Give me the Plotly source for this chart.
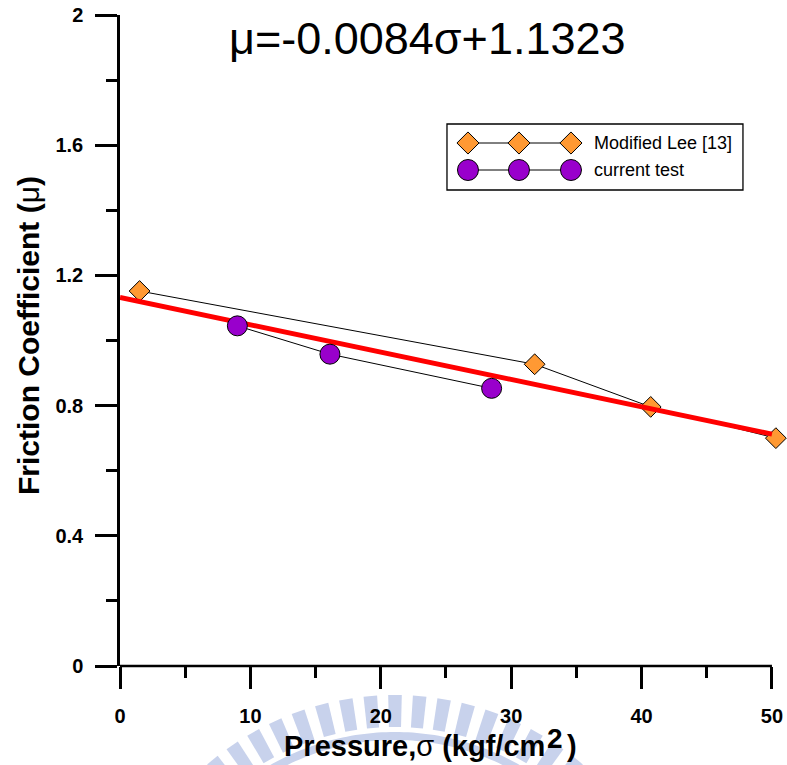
import math
import plotly.graph_objects as go

# ---------------- data ----------------
lee_x = [1.5, 31.8, 40.7, 50.3]
lee_y = [1.152, 0.927, 0.796, 0.700]

cur_x = [9.0, 16.1, 28.5]
cur_y = [1.045, 0.958, 0.853]

fit_x = [0, 50]
fit_y = [1.1323, 0.7123]   # mu = -0.0084*sigma + 1.1323 at sigma = 0 and 50

x_ticks = [0, 10, 20, 30, 40, 50]
x_ticktext = ["0", "10", "20", "30", "40", "50"]
y_ticks = [0, 0.4, 0.8, 1.2, 1.6, 2.0]
y_ticktext = ["0", "0.4", "0.8", "1.2", "1.6", "2"]

legend_names = ["Modified Lee [13]", "current test"]

# ---------------- styling ----------------
FONT = "Liberation Sans, Arial, sans-serif"
W, H = 787, 765
X_END = 51.0                       # axis range end (axis line itself stops at 50)
ML, MT, MB = 120, 15, 99
PW = (772 - ML) * X_END / 50.0     # 0..50 spans pixels 120..772
MR = W - ML - PW
PH = H - MT - MB

ORANGE = "#FF9933"
PURPLE = "#9900CC"
LW = 2.5


def px(X):
    return (X - ML) / PW


def py(Y):
    return (H - MB - Y) / PH


fig = go.Figure()

fig.add_trace(go.Scatter(
    x=lee_x, y=lee_y, mode="lines+markers", name=legend_names[0],
    line=dict(color="black", width=1),
    marker=dict(symbol="diamond", size=16, color=ORANGE,
                line=dict(color="black", width=1)),
    cliponaxis=False, showlegend=False))

fig.add_trace(go.Scatter(
    x=fit_x, y=fit_y, mode="lines", line=dict(color="#FF0000", width=5),
    showlegend=False, cliponaxis=False))

fig.add_trace(go.Scatter(
    x=cur_x, y=cur_y, mode="lines+markers", name=legend_names[1],
    line=dict(color="black", width=1),
    marker=dict(symbol="circle", size=20, color=PURPLE,
                line=dict(color="black", width=1)),
    cliponaxis=False, showlegend=False))

# ---- custom legend (three markers per sample, like the original) ----
leg_px = [px(468), px(519), px(571)]
rows = [py(143), py(170)]
fig.add_trace(go.Scatter(
    x=leg_px, y=[rows[0]] * 3, xaxis="x2", yaxis="y2", mode="lines+markers",
    line=dict(color="black", width=1),
    marker=dict(symbol="diamond", size=17, color=ORANGE,
                line=dict(color="black", width=1)),
    showlegend=False, hoverinfo="skip", cliponaxis=False))
fig.add_trace(go.Scatter(
    x=leg_px, y=[rows[1]] * 3, xaxis="x2", yaxis="y2", mode="lines+markers",
    line=dict(color="black", width=1),
    marker=dict(symbol="circle", size=21, color=PURPLE,
                line=dict(color="black", width=1)),
    showlegend=False, hoverinfo="skip", cliponaxis=False))

shapes = [
    # legend frame
    dict(type="rect", xref="paper", yref="paper",
         x0=px(447), x1=px(743), y0=py(190), y1=py(124),
         line=dict(color="black", width=1.3), fillcolor="rgba(0,0,0,0)"),
    # x axis line, stopping at 50
    dict(type="line", xref="x", yref="paper", x0=0, x1=50, y0=0, y1=0,
         line=dict(color="black", width=LW)),
]

# ---- faint watermark below the axis ----
WM = "rgb(200,210,236)"
cx, cy = 395, 984
r_out, r_in = 289, 257
band_o, band_i = 252, 244


def pt(r, a):
    X = cx + r * math.sin(a)
    Y = cy - r * math.cos(a)
    return f"{px(X):.5f},{py(Y):.5f}"


step = math.radians(4.9)
half = math.radians(1.35)
for k in range(-12, 13):
    a = k * step
    a1, a2 = a - half, a + half
    path = f"M {pt(r_in, a1)} L {pt(r_out, a1)} L {pt(r_out, a2)} L {pt(r_in, a2)} Z"
    shapes.append(dict(type="path", xref="paper", yref="paper", path=path,
                       fillcolor=WM, line=dict(width=0), layer="below"))
angs = [math.radians(-60 + i) for i in range(121)]
band = "M " + " L ".join(pt(band_o, a) for a in angs) + " L " + \
    " L ".join(pt(band_i, a) for a in reversed(angs)) + " Z"
shapes.append(dict(type="path", xref="paper", yref="paper", path=band,
                   fillcolor=WM, line=dict(width=0), layer="below"))

TITLE = 29
annotations = [
    dict(text="μ=-0.0084σ+1.1323", xref="paper", yref="paper",
         x=px(428), y=py(38), xanchor="center", yanchor="middle",
         showarrow=False, font=dict(family=FONT, size=45, color="black")),
    dict(text="<b>Friction Coefficient (</b>μ<b>)</b>", xref="paper", yref="paper",
         x=px(28), y=py(336), xanchor="center", yanchor="middle", textangle=-90,
         showarrow=False, font=dict(family=FONT, size=30, color="black")),
    dict(text="<b>Pressure,</b>σ<b> (kgf/cm</b>", xref="paper", yref="paper",
         x=px(547), y=py(746), xanchor="right", yanchor="middle",
         showarrow=False, font=dict(family=FONT, size=TITLE, color="black")),
    dict(text="<b>2</b>", xref="paper", yref="paper",
         x=px(545), y=py(738), xanchor="left", yanchor="middle",
         showarrow=False, font=dict(family=FONT, size=TITLE - 1, color="black")),
    dict(text="<b>)</b>", xref="paper", yref="paper",
         x=px(565), y=py(746), xanchor="left", yanchor="middle",
         showarrow=False, font=dict(family=FONT, size=TITLE, color="black")),
    dict(text=legend_names[0], xref="paper", yref="paper",
         x=px(592), y=rows[0], xanchor="left", yanchor="middle",
         showarrow=False, font=dict(family=FONT, size=18, color="black")),
    dict(text=legend_names[1], xref="paper", yref="paper",
         x=px(592), y=rows[1], xanchor="left", yanchor="middle",
         showarrow=False, font=dict(family=FONT, size=18, color="black")),
]

tickfont = dict(family=FONT, size=20, color="black", weight="bold")

fig.update_layout(
    width=W, height=H,
    margin=dict(l=ML, r=MR, t=MT, b=MB, pad=0, autoexpand=False),
    paper_bgcolor="white", plot_bgcolor="white",
    showlegend=False,
    xaxis=dict(range=[0, X_END], tickvals=x_ticks, ticktext=x_ticktext,
               showgrid=False, zeroline=False, showline=False,
               ticks="outside", ticklen=22, tickwidth=LW, tickcolor="black",
               minor=dict(tickvals=[5, 15, 25, 35, 45], ticks="outside",
                          ticklen=11, tickwidth=LW, tickcolor="black"),
               tickfont=tickfont, ticklabelstandoff=10, automargin=False),
    yaxis=dict(range=[0, 2], tickvals=y_ticks, ticktext=y_ticktext,
               showgrid=False, zeroline=False, showline=True,
               linecolor="black", linewidth=LW,
               ticks="outside", ticklen=22, tickwidth=LW, tickcolor="black",
               minor=dict(dtick=0.2, tick0=0, ticks="outside", ticklen=11,
                          tickwidth=LW, tickcolor="black"),
               tickfont=tickfont, ticklabelstandoff=8, automargin=False),
    xaxis2=dict(overlaying="x", range=[0, 1], visible=False, fixedrange=True),
    yaxis2=dict(overlaying="y", range=[0, 1], visible=False, fixedrange=True),
    shapes=shapes,
    annotations=annotations,
)

fig.write_html("out.html")
